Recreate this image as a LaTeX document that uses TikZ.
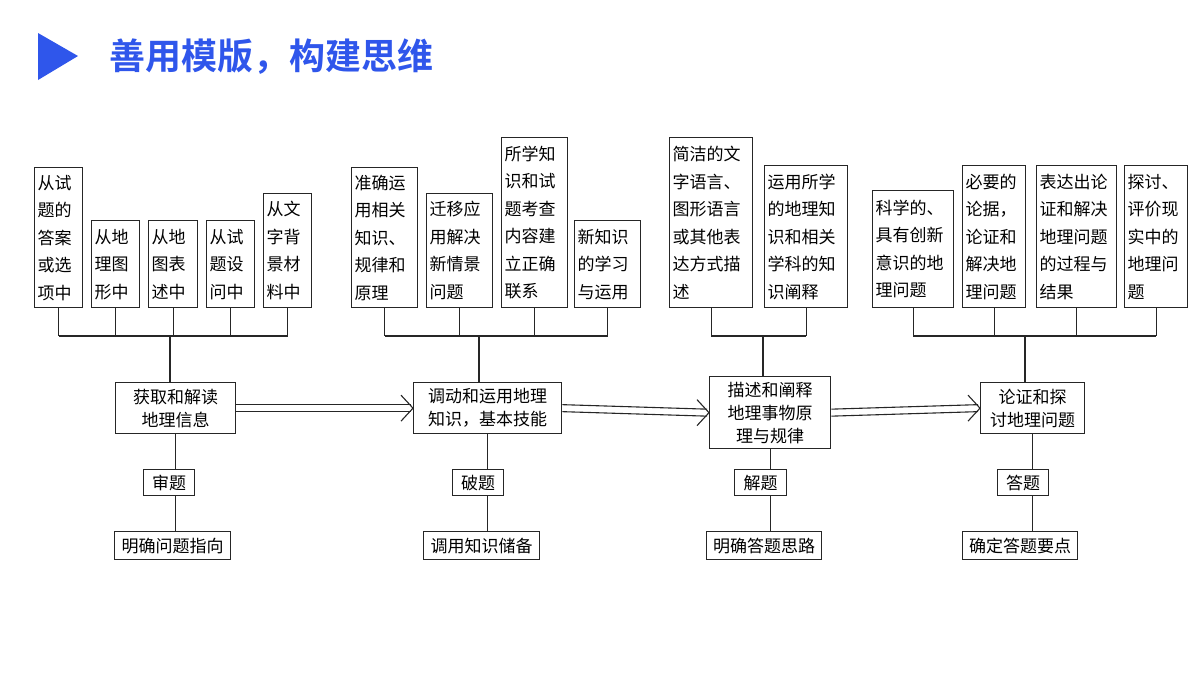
\documentclass[tikz,border=0pt]{standalone}
\usepackage{fontspec}
\setmainfont{Noto Sans CJK SC}
\newfontfamily\cjkb{Noto Sans CJK SC Bold}
\begin{document}
\begin{tikzpicture}[x=1pt,y=-1pt,
  ln/.style={draw=black!85,line width=1.3pt},
  tb/.style={ln,anchor=north west,align=left,inner xsep=3pt,inner ysep=0pt,font=\fontsize{17}{27.5}\selectfont},
  mb/.style={ln,anchor=north west,align=center,inner sep=0pt,font=\fontsize{17}{23}\selectfont},
  sb/.style={ln,anchor=north west,align=center,inner sep=0pt,font=\fontsize{17}{20}\selectfont},
  wire/.style={draw=black!85,line width=1.3pt}]
\useasboundingbox (0,0) rectangle (1200,675);
\fill[fill={rgb,255:red,47;green,86;blue,235}] (38,33) -- (78,56) -- (38,80) -- cycle;
\node[anchor=west,text={rgb,255:red,47;green,86;blue,235},font=\cjkb\fontsize{36}{40}\selectfont] (title) at (106,57) {善用模版，构建思维};
% group 1
\node[tb,text width=42,minimum height=140] (b1) at (34,167) {从试\\题的\\答案\\或选\\项中};
\node[tb,text width=42,minimum height=87] (b2) at (91,220) {从地\\理图\\形中};
\node[tb,text width=43,minimum height=87] (b3) at (148,220) {从地\\图表\\述中};
\node[tb,text width=42,minimum height=87] (b4) at (206,220) {从试\\题设\\问中};
\node[tb,text width=42,minimum height=114] (b5) at (263,193) {从文\\字背\\景材\\料中};
\node[mb,minimum width=120,minimum height=51] (m1) at (115,382) {获取和解读\\地理信息};
\node[sb,minimum width=51,minimum height=26] (s1) at (143,469) {审题};
\node[sb,minimum width=116,minimum height=28] (r1) at (114,531) {明确问题指向};
% group 2
\node[tb,text width=60,minimum height=140] (c1) at (351,167) {准确运\\用相关\\知识、\\规律和\\原理};
\node[tb,text width=60,minimum height=114] (c2) at (426,193) {迁移应\\用解决\\新情景\\问题};
\node[tb,text width=60,minimum height=170] (c3) at (501,137) {所学知\\识和试\\题考查\\内容建\\立正确\\联系};
\node[tb,text width=60,minimum height=87] (c4) at (574,220) {新知识\\的学习\\与运用};
\node[mb,minimum width=148,minimum height=51] (m2) at (413,382) {调动和运用地理\\知识，基本技能};
\node[sb,minimum width=51,minimum height=26] (s2) at (452,469) {破题};
\node[sb,minimum width=116,minimum height=28] (r2) at (423,531) {调用知识储备};
% group 3
\node[tb,text width=77,minimum height=170] (d1) at (669,137) {简洁的文\\字语言、\\图形语言\\或其他表\\达方式描\\述};
\node[tb,text width=77,minimum height=142] (d2) at (764,165) {运用所学\\的地理知\\识和相关\\学科的知\\识阐释};
\node[mb,minimum width=121,minimum height=72] (m3) at (709,376) {描述和阐释\\地理事物原\\理与规律};
\node[sb,minimum width=52,minimum height=26] (s3) at (734,469) {解题};
\node[sb,minimum width=115,minimum height=28] (r3) at (706,531) {明确答题思路};
% group 4
\node[tb,text width=75,minimum height=117] (e1) at (872,190) {科学的、\\具有创新\\意识的地\\理问题};
\node[tb,text width=57,minimum height=142] (e2) at (962,165) {必要的\\论据，\\论证和\\解决地\\理问题};
\node[tb,text width=74,minimum height=142] (e3) at (1036,165) {表达出论\\证和解决\\地理问题\\的过程与\\结果};
\node[tb,text width=57,minimum height=142] (e4) at (1124,165) {探讨、\\评价现\\实中的\\地理问\\题};
\node[mb,minimum width=104,minimum height=51] (m4) at (980,382) {论证和探\\讨地理问题};
\node[sb,minimum width=51,minimum height=26] (s4) at (997,469) {答题};
\node[sb,minimum width=115,minimum height=28] (r4) at (962,531) {确定答题要点};
% buses
\coordinate (k1) at (170,336);
\foreach \n in {b1,b2,b3,b4,b5} \draw[wire] (\n.south) -- (\n.south |- k1);
\draw[wire] (b1.south |- k1) -- (b5.south |- k1);
\draw[wire] (k1) -- (m1.north -| k1);
\coordinate (k2) at (479,336);
\foreach \n in {c1,c2,c3,c4} \draw[wire] (\n.south) -- (\n.south |- k2);
\draw[wire] (c1.south |- k2) -- (c4.south |- k2);
\draw[wire] (k2) -- (m2.north -| k2);
\coordinate (k3) at (763,336);
\foreach \n in {d1,d2} \draw[wire] (\n.south) -- (\n.south |- k3);
\draw[wire] (d1.south |- k3) -- (d2.south |- k3);
\draw[wire] (k3) -- (m3.north -| k3);
\coordinate (k4) at (1025,336);
\foreach \n in {e1,e2,e3,e4} \draw[wire] (\n.south) -- (\n.south |- k4);
\draw[wire] (e1.south |- k4) -- (e4.south |- k4);
\draw[wire] (k4) -- (m4.north -| k4);
% verticals down
\foreach \m/\s/\r in {m1/s1/r1,m2/s2/r2,m3/s3/r3,m4/s4/r4}{
  \draw[wire] (\m.south) -- (\s.north -| \m.south);
  \draw[wire] (\s.south -| \m.south) -- (\r.north -| \m.south);}
% double arrows
\foreach \a/\b in {m1/m2,m2/m3,m3/m4}{
  \draw[wire,line width=1.1pt] ([yshift=-3.5]\a.east) -- ([yshift=-3.5,xshift=-2]\b.west);
  \draw[wire,line width=1.1pt] ([yshift=3.5]\a.east) -- ([yshift=3.5,xshift=-2]\b.west);
  \draw[wire,line width=1.1pt] ([xshift=-12,yshift=-13]\b.west) -- (\b.west) -- ([xshift=-12,yshift=13]\b.west);}
\end{tikzpicture}
\end{document}
